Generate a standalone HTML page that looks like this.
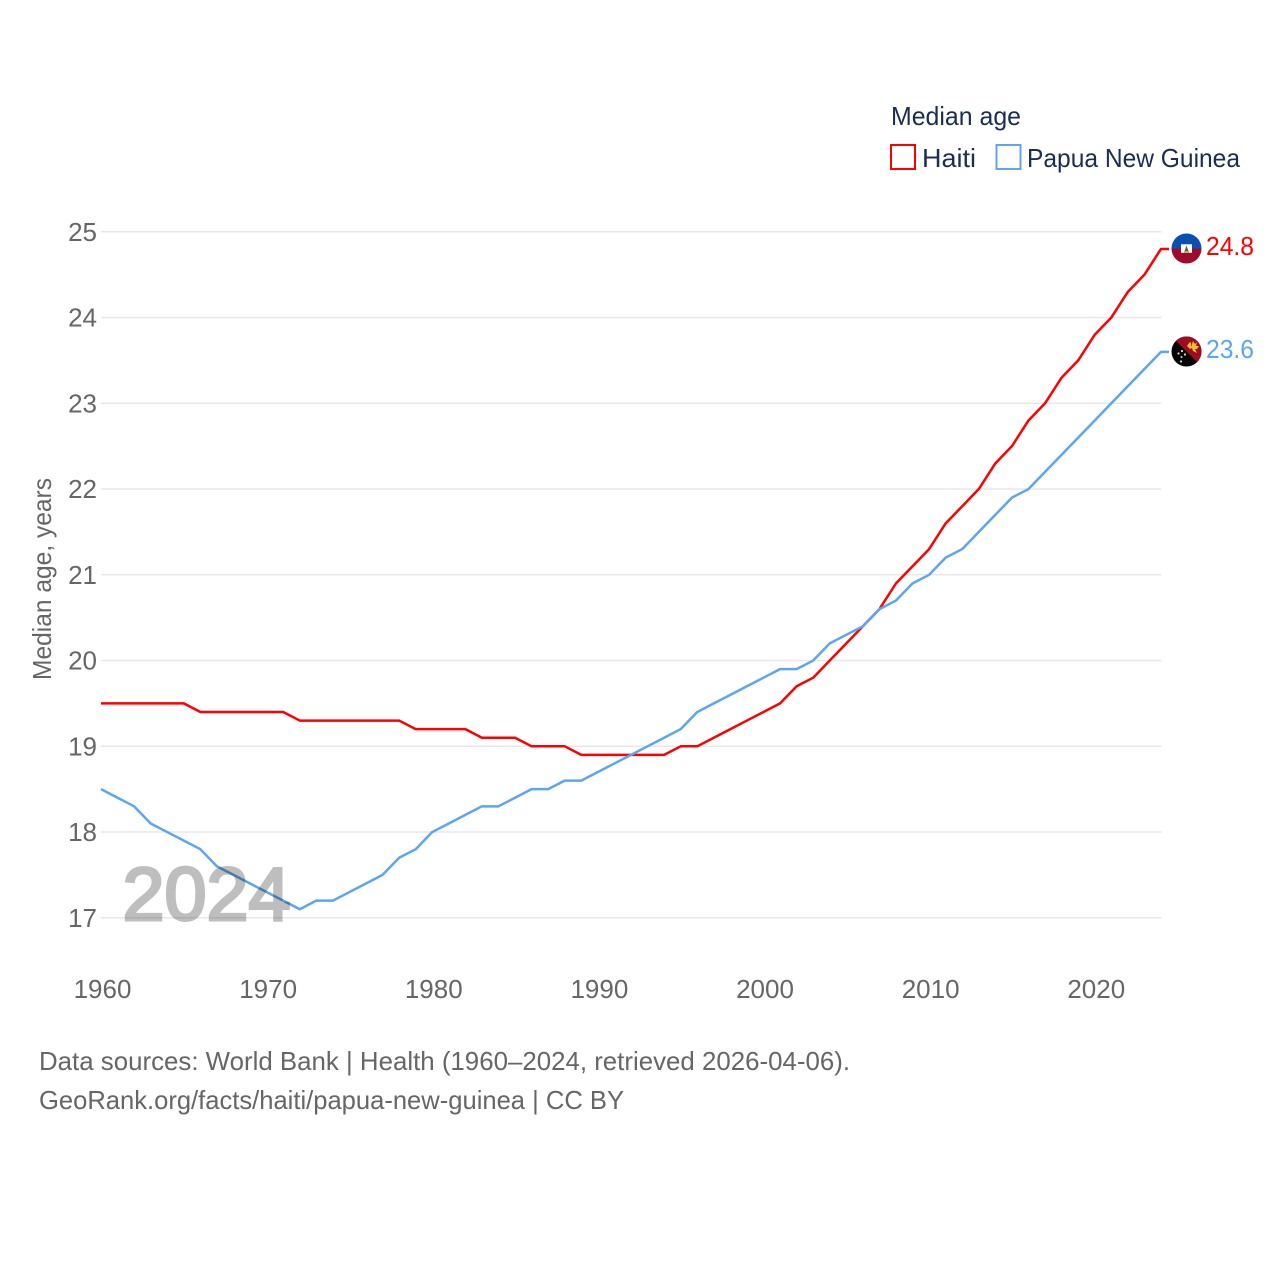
<!DOCTYPE html>
<html lang="en">
<head>
<meta charset="utf-8">
<title>Median age: Haiti and Papua New Guinea</title>
<style>
html,body{margin:0;padding:0;background:#fff;}
svg{display:block;font-family:"Liberation Sans",sans-serif;}
</style>
</head>
<body>
<svg id="chart" xmlns="http://www.w3.org/2000/svg" width="1280" height="1280" viewBox="0 0 1280 1280">
  <defs>
    <clipPath id="flag-clip-ht"><circle cx="1186.500" cy="248.500" r="15"/></clipPath>
    <clipPath id="flag-clip-pg"><circle cx="1186.500" cy="351.500" r="15"/></clipPath>
  </defs>
  <rect x="0" y="0" width="1280" height="1280" fill="#ffffff"/>
  <g id="grid"></g>
  <g id="y-ticks"></g>
  <g id="x-ticks"></g>
  <text transform="translate(51,680) rotate(-90)" font-size="26" fill="#666666" textLength="202" lengthAdjust="spacingAndGlyphs">Median age, years</text>
  <g id="series"></g>

  <g clip-path="url(#flag-clip-ht)">
    <rect x="1171" y="233" width="31" height="15.500" fill="#0b4fb0"/>
    <rect x="1171" y="248.500" width="31" height="16" fill="#a00a2b"/>
    <rect x="1181" y="244.300" width="11" height="8.500" fill="#ffffff"/>
    <path d="M1184 252.500 L1186.500 245.500 L1189 252.500 Z" fill="#3c6f52"/>
    <rect x="1184" y="251" width="5" height="1.500" fill="#c9a93b"/>
  </g>
  <g clip-path="url(#flag-clip-pg)">
    <rect x="1171" y="336" width="31" height="31" fill="#050505"/>
    <path d="M1171 336 H1202 V367 Z" fill="#9c0d22"/>
    <path d="M1187 346 L1189 343 L1191 342 L1191 347 L1193 341 L1195 344 L1197 342 L1196 346 L1199 346 L1197 349 L1195 349 L1197 353 L1193 351 L1192 348 L1190 349 Z" fill="#f4bd2c"/>
    <circle cx="1178.500" cy="353.500" r="1.100" fill="#d5d5d5"/>
    <circle cx="1182" cy="351" r="1.100" fill="#d5d5d5"/>
    <circle cx="1185" cy="354.500" r="1.100" fill="#d5d5d5"/>
    <circle cx="1181.500" cy="357" r="1" fill="#d5d5d5"/>
    <circle cx="1181" cy="361.500" r="1.100" fill="#d5d5d5"/>
  </g>

  <text id="end-label-haiti" x="1206" y="255" font-size="26" fill="#ff0000" textLength="48" lengthAdjust="spacingAndGlyphs"></text>
  <text id="end-label-png" x="1206" y="358" font-size="26" fill="#5ca6f0" textLength="48" lengthAdjust="spacingAndGlyphs"></text>

  <text x="122.500" y="920" font-size="75" font-weight="400" fill="#000000" stroke="#000000" stroke-width="3" opacity="0.25" textLength="168" lengthAdjust="spacingAndGlyphs">2024</text>

  <g>
    <text x="891" y="125" font-size="26" fill="#1a2f50" textLength="130" lengthAdjust="spacingAndGlyphs">Median age</text>
    <g>
      <rect x="891" y="145" width="24" height="24" fill="none" stroke="#ff0000" stroke-width="2"/>
      <text x="922" y="167" font-size="26" fill="#1a2f50" textLength="54" lengthAdjust="spacingAndGlyphs">Haiti</text>
    </g>
    <g>
      <rect x="996.500" y="145" width="24" height="24" fill="none" stroke="#5ca6f0" stroke-width="2"/>
      <text x="1027" y="167" font-size="26" fill="#1a2f50" textLength="213" lengthAdjust="spacingAndGlyphs">Papua New Guinea</text>
    </g>
  </g>

  <g>
    <text x="39" y="1070" font-size="26" fill="#666666" textLength="811" lengthAdjust="spacingAndGlyphs">Data sources: World Bank | Health (1960–2024, retrieved 2026-04-06).</text>
    <text x="39" y="1109" font-size="26" fill="#666666" textLength="585" lengthAdjust="spacingAndGlyphs">GeoRank.org/facts/haiti/papua-new-guinea | CC BY</text>
  </g>
</svg>
<script>
const years = [1960,1961,1962,1963,1964,1965,1966,1967,1968,1969,1970,1971,1972,1973,1974,1975,1976,1977,1978,1979,1980,1981,1982,1983,1984,1985,1986,1987,1988,1989,1990,1991,1992,1993,1994,1995,1996,1997,1998,1999,2000,2001,2002,2003,2004,2005,2006,2007,2008,2009,2010,2011,2012,2013,2014,2015,2016,2017,2018,2019,2020,2021,2022,2023,2024];
const haitiValues = [19.5,19.5,19.5,19.5,19.5,19.5,19.4,19.4,19.4,19.4,19.4,19.4,19.3,19.3,19.3,19.3,19.3,19.3,19.3,19.2,19.2,19.2,19.2,19.1,19.1,19.1,19.0,19.0,19.0,18.9,18.9,18.9,18.9,18.9,18.9,19.0,19.0,19.1,19.2,19.3,19.4,19.5,19.7,19.8,20.0,20.2,20.4,20.6,20.9,21.1,21.3,21.6,21.8,22.0,22.3,22.5,22.8,23.0,23.3,23.5,23.8,24.0,24.3,24.5,24.8];
const pngValues = [18.5,18.4,18.3,18.1,18.0,17.9,17.8,17.6,17.5,17.4,17.3,17.2,17.1,17.2,17.2,17.3,17.4,17.5,17.7,17.8,18.0,18.1,18.2,18.3,18.3,18.4,18.5,18.5,18.6,18.6,18.7,18.8,18.9,19.0,19.1,19.2,19.4,19.5,19.6,19.7,19.8,19.9,19.9,20.0,20.2,20.3,20.4,20.6,20.7,20.9,21.0,21.2,21.3,21.5,21.7,21.9,22.0,22.2,22.4,22.6,22.8,23.0,23.2,23.4,23.6];
const yTickLabels = [17,18,19,20,21,22,23,24,25];
const xTickLabels = [1960,1970,1980,1990,2000,2010,2020];

const SVG_NS = 'http://www.w3.org/2000/svg';
const X0 = 101, X1 = 1161, Y17 = 917.8, Y25 = 231.8;
function xScale(year) { return X0 + (year - 1960) * (X1 - X0) / 64; }
function yScale(value) { return Y17 - (value - 17) * (Y17 - Y25) / 8; }

const gridGroup = document.getElementById('grid');
const yTickGroup = document.getElementById('y-ticks');
const xTickGroup = document.getElementById('x-ticks');
const seriesGroup = document.getElementById('series');

yTickLabels.forEach(function (tick) {
  const line = document.createElementNS(SVG_NS, 'line');
  
  
  line.setAttribute('x1', X0);
  line.setAttribute('x2', X1 + 0.5);
  line.setAttribute('y1', yScale(tick));
  line.setAttribute('y2', yScale(tick));
  line.setAttribute('stroke', '#e8e8e8');
  line.setAttribute('stroke-width', '1.5');
  gridGroup.appendChild(line);

  const label = document.createElementNS(SVG_NS, 'text');
  
  
  label.setAttribute('x', 97);
  label.setAttribute('y', yScale(tick) + 9);
  label.setAttribute('text-anchor', 'end');
  label.setAttribute('font-size', '26');
  label.setAttribute('fill', '#666666');
  label.textContent = tick;
  yTickGroup.appendChild(label);
});

xTickLabels.forEach(function (tick) {
  const label = document.createElementNS(SVG_NS, 'text');
  
  
  label.setAttribute('x', xScale(tick) + 1.5);
  label.setAttribute('y', 998);
  label.setAttribute('text-anchor', 'middle');
  label.setAttribute('font-size', '26');
  label.setAttribute('fill', '#666666');
  label.textContent = tick;
  xTickGroup.appendChild(label);
});

function drawSeries(values, color, lineName) {
  const pts = values.map(function (v, i) { return xScale(years[i]).toFixed(2) + ',' + yScale(v).toFixed(2); });
  const lastY = yScale(values[values.length - 1]).toFixed(2);
  pts.push('1169,' + lastY);
  const poly = document.createElementNS(SVG_NS, 'polyline');
  
  
  poly.setAttribute('points', pts.join(' '));
  poly.setAttribute('fill', 'none');
  poly.setAttribute('stroke', color);
  poly.setAttribute('stroke-width', '2.5');
  poly.setAttribute('stroke-linejoin', 'round');
  seriesGroup.appendChild(poly);
}
drawSeries(haitiValues, '#ff0000', 'haiti-line');
drawSeries(pngValues, '#5ca6f0', 'papua-new-guinea-line');

document.getElementById('end-label-haiti').textContent = haitiValues[haitiValues.length - 1].toFixed(1);
document.getElementById('end-label-png').textContent = pngValues[pngValues.length - 1].toFixed(1);
</script>
</body>
</html>
